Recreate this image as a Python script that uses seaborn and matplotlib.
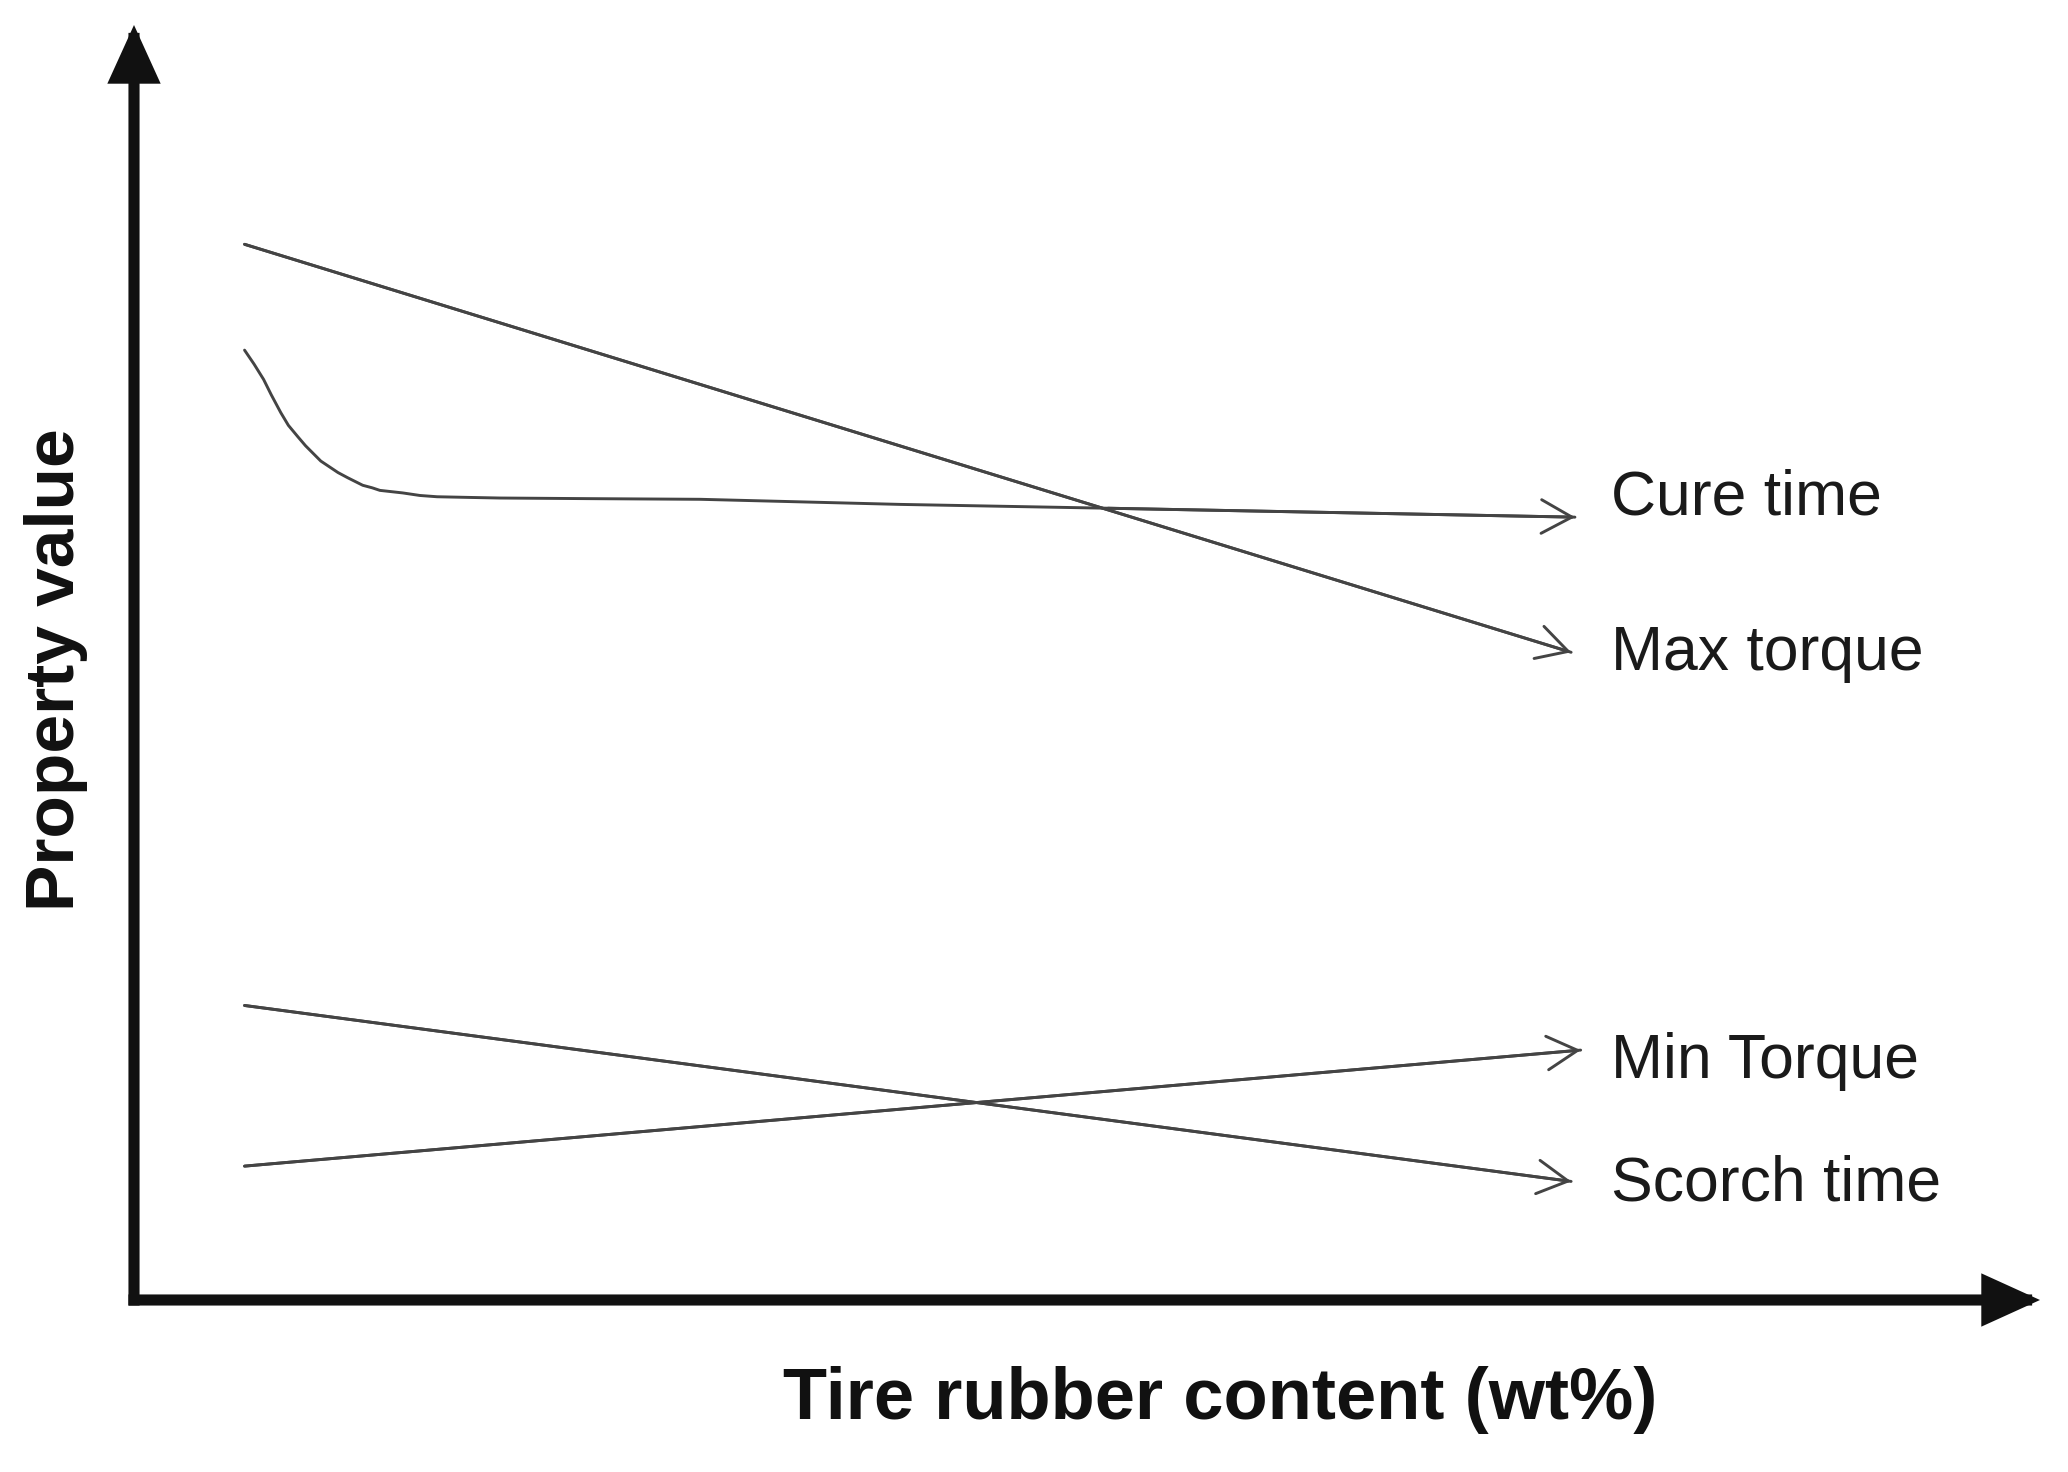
import matplotlib
matplotlib.use("Agg")
import matplotlib.pyplot as plt
import seaborn as sns
import pandas as pd

sns.set_theme(style="white")
plt.rcParams['font.family'] = ['Liberation Sans', 'DejaVu Sans']

# ---- data (schematic, arbitrary units) ----
cure_x = [5.8, 6.3, 6.8, 7.2, 7.7, 8.1, 8.6, 9.0, 9.4, 9.8, 10.3, 10.7, 11.2, 11.6, 12.0, 12.5, 12.9, 13.5, 14.1, 15.0, 15.9, 17.5, 19.2, 24.0, 29.7, 40.2, 51.1, 75.6]
cure_y = [74.5, 73.4, 72.2, 71.0, 69.6, 68.6, 67.7, 67.0, 66.4, 65.8, 65.3, 64.9, 64.5, 64.2, 63.9, 63.7, 63.5, 63.4, 63.3, 63.1, 63.0, 62.95, 62.9, 62.85, 62.8, 62.4, 62.1, 61.4]
maxtq_x = [5.8, 75.4]
maxtq_y = [82.8, 50.8]
mintq_x = [5.8, 75.9]
mintq_y = [10.5, 19.6]
scorch_x = [5.8, 75.4]
scorch_y = [23.1, 9.3]
series_names = ["Cure time", "Max torque", "Min Torque", "Scorch time"]
label_y = [61.6, 49.4, 17.4, 7.8]
x_label = "Tire rubber content (wt%)"
y_label = "Property value"

W, H = 2068, 1472
fig = plt.figure(figsize=(W / 100, H / 100), dpi=100)
ox, oy, tx, ty = 134, 1300, 2040, 25
ax = fig.add_axes([ox / W, (H - oy) / H, (tx - ox) / W, (oy - ty) / H])
ax.set_xlim(0, 100)
ax.set_ylim(0, 100)
for s in ax.spines.values():
    s.set_visible(False)
ax.set_xticks([])
ax.set_yticks([])
ax.patch.set_alpha(0)

line_col = "#444444"
series = [(cure_x, cure_y), (maxtq_x, maxtq_y), (mintq_x, mintq_y), (scorch_x, scorch_y)]
for (xs, ys), name, ly in zip(series, series_names, label_y):
    df = pd.DataFrame({"x": xs, "y": ys})
    sns.lineplot(data=df, x="x", y="y", ax=ax, sort=False, estimator=None,
                 color=line_col, lw=2.1)
    ax.annotate("", xy=(xs[-1], ys[-1]), xytext=(xs[-2], ys[-2]),
                arrowprops=dict(arrowstyle="->,head_length=1.0,head_width=0.55",
                                color=line_col, lw=2.1, mutation_scale=22,
                                shrinkA=0, shrinkB=0))
    ax.text(77.5, ly, name, fontsize=45, color="#1a1a1a", ha="left", va="baseline")

ax.set_xlabel("")
ax.set_ylabel("")

# axis arrows
axis_kw = dict(arrowstyle="-|>,head_length=1.1,head_width=0.5", color="#111111",
               lw=8, mutation_scale=26, shrinkA=0, shrinkB=0,
               capstyle="projecting", joinstyle="miter")
ax.annotate("", xy=(1, 0), xytext=(0, 0), xycoords="axes fraction",
            textcoords="axes fraction", arrowprops=axis_kw, annotation_clip=False)
ax.annotate("", xy=(0, 1), xytext=(0, 0), xycoords="axes fraction",
            textcoords="axes fraction", arrowprops=axis_kw, annotation_clip=False)

fig.text(1220 / W, (H - 1400) / H, x_label, fontsize=52, fontweight="bold",
         ha="center", va="center", color="#111111")
fig.text(56 / W, (H - 670) / H, y_label, fontsize=50, fontweight="bold", rotation=90,
         ha="center", va="center", color="#111111")

fig.savefig("out.png", dpi=100, facecolor="white")
